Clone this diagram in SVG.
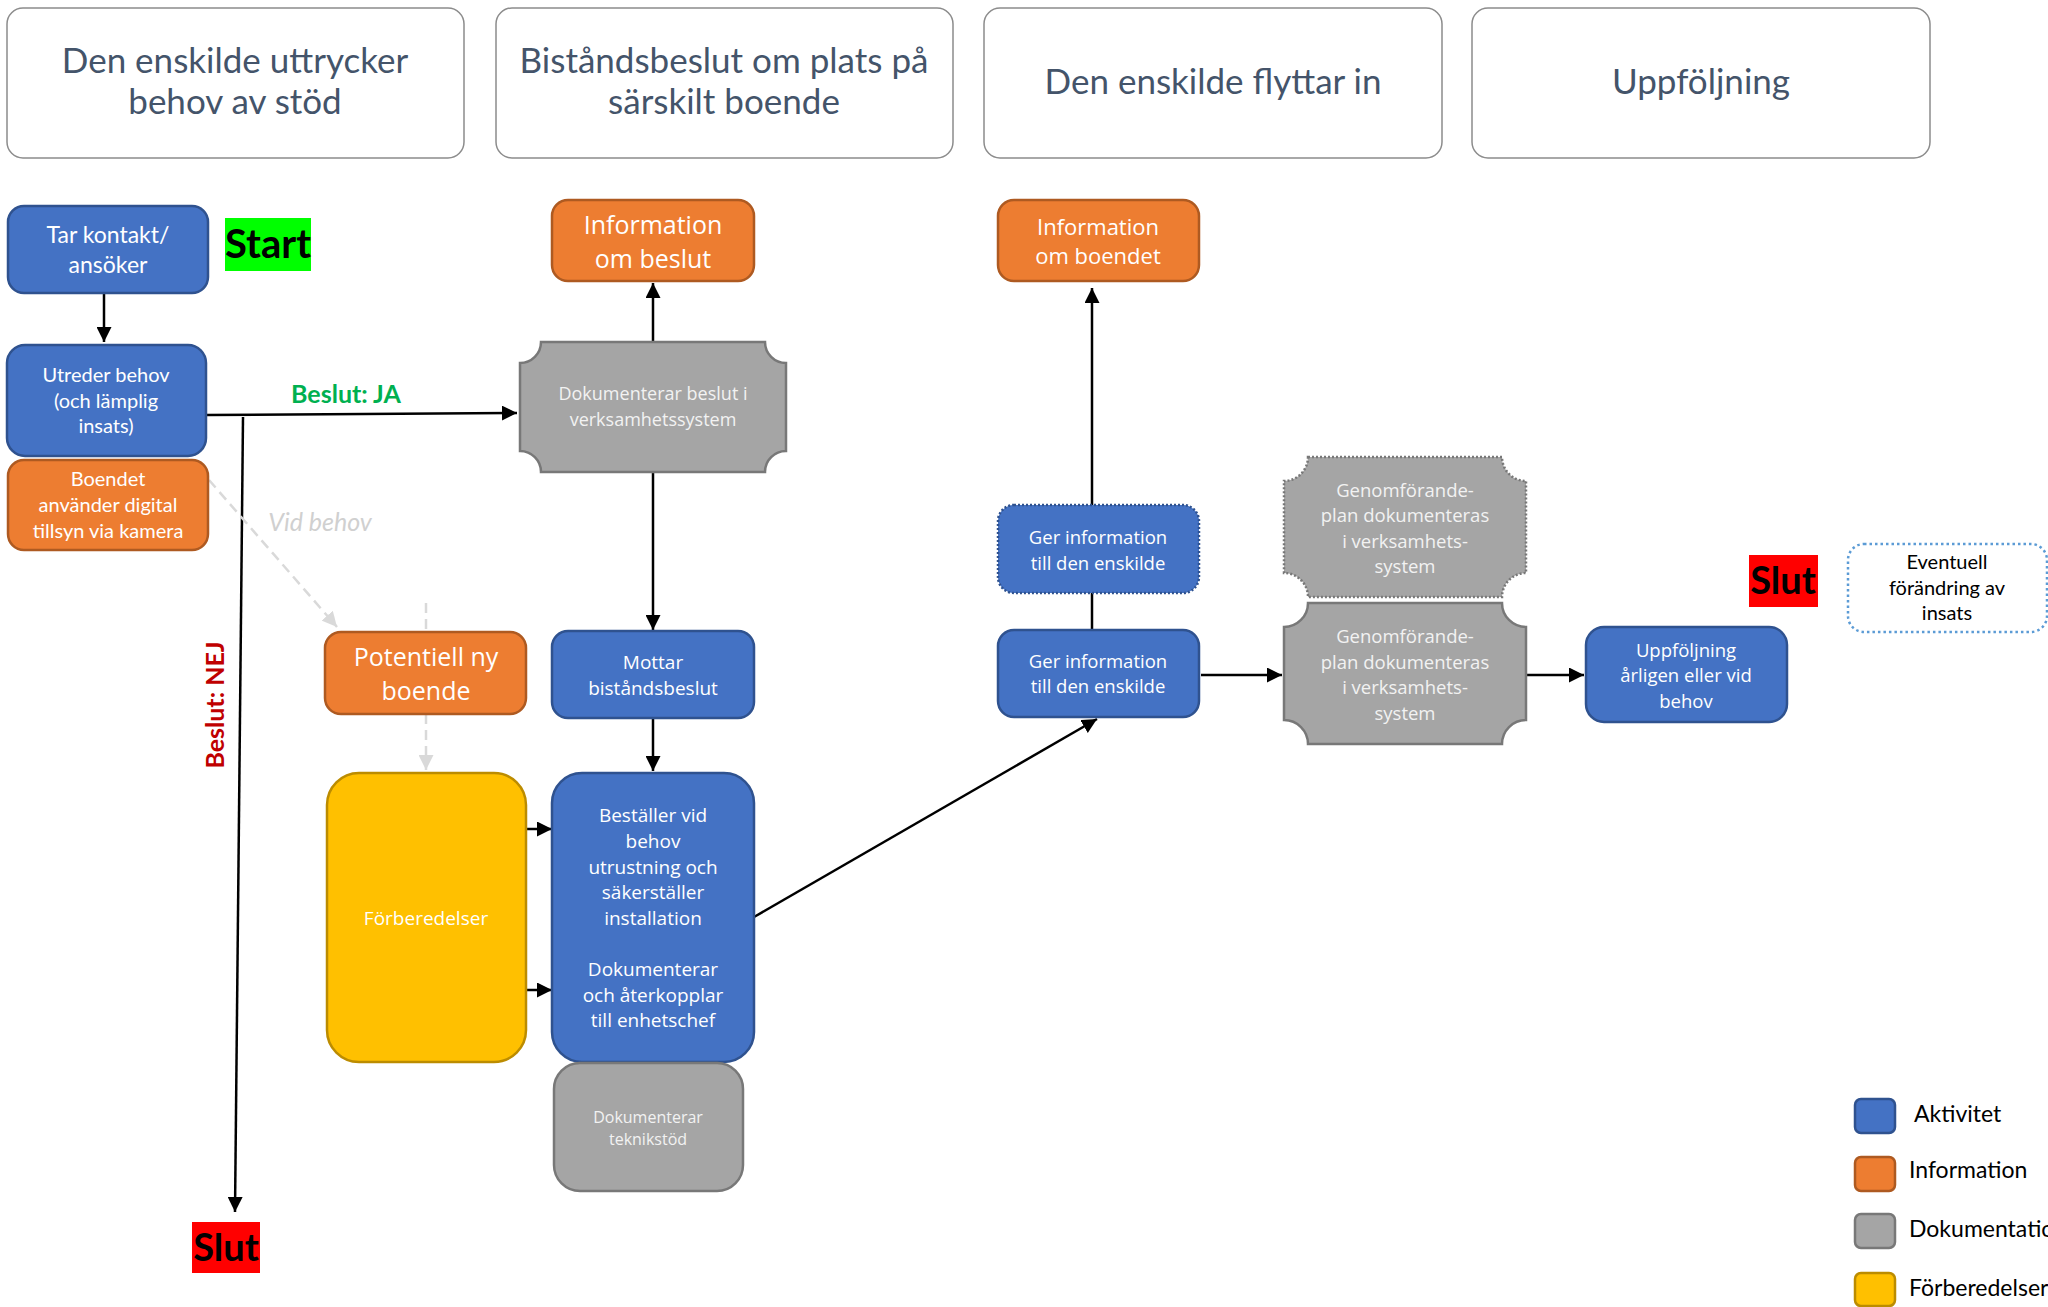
<svg xmlns="http://www.w3.org/2000/svg" width="2048" height="1307" viewBox="0 0 2048 1307">
<defs>
<style>
.hdr{fill:#fff;stroke:#8c8c8c;stroke-width:1.5}
.ht{font-family:Lato,"Liberation Sans",sans-serif;font-size:35px;fill:#44546a;text-anchor:middle}
.blue{fill:#4472c4;stroke:#2f528f;stroke-width:2.5}
.blued{fill:#4472c4;stroke:#2f528f;stroke-width:2.5;stroke-dasharray:2 2}
.orange{fill:#ed7d31;stroke:#ae5a21;stroke-width:2.5}
.gray{fill:#a5a5a5;stroke:#787878;stroke-width:2.5}
.grayd{fill:#a5a5a5;stroke:#787878;stroke-width:2.5;stroke-dasharray:2 2}
.yellow{fill:#ffc000;stroke:#bc8c00;stroke-width:2.5}
.tc{font-family:Lato,"Liberation Sans",sans-serif;fill:#fff;text-anchor:middle}
.to{font-family:"Open Sans","Liberation Sans",sans-serif;fill:#fff;text-anchor:middle}
.tg{font-family:"Open Sans","Liberation Sans",sans-serif;fill:#f2f2f2;text-anchor:middle}
.big{font-family:Lato,"Liberation Sans",sans-serif;font-weight:bold;fill:#000;text-anchor:middle}
.con{fill:none;stroke:#000;stroke-width:2.5}
.dash{fill:none;stroke:#d9d9d9;stroke-width:2.5;stroke-dasharray:10 6}
.lg{font-family:Lato,"Liberation Sans",sans-serif;font-size:23px;fill:#000}
</style>
<marker id="arr" viewBox="0 0 10 10" refX="10" refY="5" markerWidth="15" markerHeight="15" markerUnits="userSpaceOnUse" orient="auto">
<path d="M0,0 L10,5 L0,10 z" fill="#000"/>
</marker>
<marker id="arrg" viewBox="0 0 10 10" refX="10" refY="5" markerWidth="15" markerHeight="15" markerUnits="userSpaceOnUse" orient="auto">
<path d="M0,0 L10,5 L0,10 z" fill="#d9d9d9"/>
</marker>
</defs>
<rect width="2048" height="1307" fill="#fff"/>

<g id="header1"><rect class="hdr" x="7" y="8" width="457" height="150" rx="16"/>
<text class="ht" x="235" y="73">Den enskilde uttrycker</text><text class="ht" x="235" y="114">behov av stöd</text></g>
<g id="header2"><rect class="hdr" x="496" y="8" width="457" height="150" rx="16"/>
<text class="ht" x="724" y="73">Biståndsbeslut om plats på</text><text class="ht" x="724" y="114">särskilt boende</text></g>
<g id="header3"><rect class="hdr" x="984" y="8" width="458" height="150" rx="16"/>
<text class="ht" x="1213" y="94">Den enskilde flyttar in</text></g>
<g id="header4"><rect class="hdr" x="1472" y="8" width="458" height="150" rx="16"/>
<text class="ht" x="1701" y="94">Uppföljning</text></g>

<g id="connectors">
<line class="con" x1="104" y1="293" x2="104" y2="342" marker-end="url(#arr)"/>
<line class="con" x1="206" y1="415" x2="517" y2="413" marker-end="url(#arr)"/>
<line class="con" x1="243" y1="417" x2="235" y2="1212" marker-end="url(#arr)"/>
<line class="dash" x1="209" y1="480" x2="337" y2="627" marker-end="url(#arrg)"/>
<line class="dash" x1="426" y1="603" x2="426" y2="632"/>
<line class="dash" x1="426" y1="714" x2="426" y2="770" marker-end="url(#arrg)"/>
<line class="con" x1="653" y1="342" x2="653" y2="283" marker-end="url(#arr)"/>
<line class="con" x1="653" y1="472" x2="653" y2="630" marker-end="url(#arr)"/>
<line class="con" x1="653" y1="718" x2="653" y2="771" marker-end="url(#arr)"/>
<line class="con" x1="526" y1="829" x2="552" y2="829" marker-end="url(#arr)"/>
<line class="con" x1="526" y1="990" x2="552" y2="990" marker-end="url(#arr)"/>
<line class="con" x1="754" y1="917" x2="1097" y2="719" marker-end="url(#arr)"/>
<line class="con" x1="1092" y1="505" x2="1092" y2="288" marker-end="url(#arr)"/>
<line class="con" x1="1092" y1="593" x2="1092" y2="630"/>
<line class="con" x1="1201" y1="675" x2="1282" y2="675" marker-end="url(#arr)"/>
<line class="con" x1="1526" y1="675" x2="1584" y2="675" marker-end="url(#arr)"/>
<text x="346" y="403" font-family="Lato,'Liberation Sans',sans-serif" font-weight="bold" font-size="25" fill="#00b050" text-anchor="middle">Beslut: JA</text>
<text x="215" y="714" transform="rotate(-90 215 705)" font-family="Lato,'Liberation Sans',sans-serif" font-weight="bold" font-size="25" fill="#c00000" text-anchor="middle">Beslut: NEJ</text>
<text x="320" y="531" font-family="Lato,'Liberation Sans',sans-serif" font-style="italic" font-size="25" fill="#d0d0d0" text-anchor="middle">Vid behov</text>
</g>

<g id="tar-kontakt"><rect class="blue" x="8" y="206" width="200" height="87" rx="16"/>
<text class="tc" font-size="23" x="108" y="243">Tar kontakt/</text><text class="tc" font-size="23" x="108" y="273">ansöker</text></g>
<g id="start"><rect x="225" y="218" width="86" height="53" fill="#00ff00"/>
<text class="big" font-size="40" x="268" y="258">Start</text></g>
<g id="utreder"><rect class="blue" x="7" y="345" width="199" height="111" rx="18"/>
<text class="tc" font-size="20" x="106" y="382">Utreder behov</text><text class="tc" font-size="20" x="106" y="408">(och lämplig</text><text class="tc" font-size="20" x="106" y="433">insats)</text></g>
<g id="boendet"><rect class="orange" x="8" y="460" width="200" height="90" rx="16"/>
<text class="tc" font-size="20" x="108" y="486">Boendet</text><text class="tc" font-size="20" x="108" y="512">använder digital</text><text class="tc" font-size="20" x="108" y="538">tillsyn via kamera</text></g>
<g id="slut1"><rect x="192" y="1222" width="68" height="51" fill="#ff0000"/>
<text class="big" font-size="38" x="226" y="1261">Slut</text></g>
<g id="potentiell"><rect class="orange" x="325" y="632" width="201" height="82" rx="16"/>
<text class="to" font-size="25" x="426" y="666">Potentiell ny</text><text class="to" font-size="25" x="426" y="700">boende</text></g>
<g id="forberedelser"><rect class="yellow" x="327" y="773" width="199" height="289" rx="32"/>
<text class="to" font-size="19" x="426" y="925">Förberedelser</text></g>
<g id="info-beslut"><rect class="orange" x="552" y="200" width="202" height="81" rx="16"/>
<text class="to" font-size="25" x="653" y="234">Information</text><text class="to" font-size="25" x="653" y="268">om beslut</text></g>
<g id="dok-beslut"><path class="gray" d="M541,342 H765 A21 21 0 0 0 786,363 V451 A21 21 0 0 0 765,472 H541 A21 21 0 0 0 520,451 V363 A21 21 0 0 0 541,342 Z"/>
<text class="tg" font-size="18" x="653" y="400">Dokumenterar beslut i</text><text class="tg" font-size="18" x="653" y="426">verksamhetssystem</text></g>
<g id="mottar"><rect class="blue" x="552" y="631" width="202" height="87" rx="16"/>
<text class="to" font-size="19" x="653" y="669">Mottar</text><text class="to" font-size="19" x="653" y="695">biståndsbeslut</text></g>
<g id="bestaller"><rect class="blue" x="552" y="773" width="202" height="289" rx="30"/>
<text class="to" font-size="19" x="653" y="822">Beställer vid</text>
<text class="to" font-size="19" x="653" y="848">behov</text>
<text class="to" font-size="19" x="653" y="874">utrustning och</text>
<text class="to" font-size="19" x="653" y="899">säkerställer</text>
<text class="to" font-size="19" x="653" y="925">installation</text>
<text class="to" font-size="19" x="653" y="976">Dokumenterar</text>
<text class="to" font-size="19" x="653" y="1002">och återkopplar</text>
<text class="to" font-size="19" x="653" y="1027">till enhetschef</text></g>
<g id="teknikstod"><rect class="gray" x="554" y="1063" width="189" height="128" rx="26"/>
<text class="tg" font-size="16" x="648" y="1123">Dokumenterar</text><text class="tg" font-size="16" x="648" y="1145">teknikstöd</text></g>
<g id="info-boendet"><rect class="orange" x="998" y="200" width="201" height="81" rx="16"/>
<text class="to" font-size="22" x="1098" y="235">Information</text><text class="to" font-size="22" x="1098" y="264">om boendet</text></g>
<g id="ger-info-1"><rect class="blued" x="998" y="505" width="201" height="88" rx="16"/>
<text class="to" font-size="18.5" x="1098" y="544">Ger information</text><text class="to" font-size="18.5" x="1098" y="570">till den enskilde</text></g>
<g id="ger-info-2"><rect class="blue" x="998" y="630" width="201" height="87" rx="16"/>
<text class="to" font-size="18.5" x="1098" y="668">Ger information</text><text class="to" font-size="18.5" x="1098" y="693">till den enskilde</text></g>
<g id="plan-1"><path class="grayd" d="M1308,457 H1502 A24 24 0 0 0 1526,481 V573 A24 24 0 0 0 1502,597 H1308 A24 24 0 0 0 1284,573 V481 A24 24 0 0 0 1308,457 Z"/>
<text class="tg" font-size="18.5" x="1405" y="497">Genomförande-</text><text class="tg" font-size="18.5" x="1405" y="522">plan dokumenteras</text><text class="tg" font-size="18.5" x="1405" y="548">i verksamhets-</text><text class="tg" font-size="18.5" x="1405" y="573">system</text></g>
<g id="plan-2"><path class="gray" d="M1308,603 H1502 A24 24 0 0 0 1526,627 V720 A24 24 0 0 0 1502,744 H1308 A24 24 0 0 0 1284,720 V627 A24 24 0 0 0 1308,603 Z"/>
<text class="tg" font-size="18.5" x="1405" y="643">Genomförande-</text><text class="tg" font-size="18.5" x="1405" y="669">plan dokumenteras</text><text class="tg" font-size="18.5" x="1405" y="694">i verksamhets-</text><text class="tg" font-size="18.5" x="1405" y="720">system</text></g>
<g id="uppfoljning"><rect class="blue" x="1586" y="627" width="201" height="95" rx="18"/>
<text class="to" font-size="18.5" x="1686" y="657">Uppföljning</text><text class="to" font-size="18.5" x="1686" y="682">årligen eller vid</text><text class="to" font-size="18.5" x="1686" y="708">behov</text></g>
<g id="slut2"><rect x="1749" y="555" width="69" height="52" fill="#ff0000"/>
<text class="big" font-size="38" x="1783" y="594">Slut</text></g>
<g id="eventuell"><rect x="1848" y="544" width="199" height="88" rx="16" fill="#fff" stroke="#5b9bd5" stroke-width="2.5" stroke-dasharray="2.5 3"/>
<text font-family="Lato,'Liberation Sans',sans-serif" font-size="20" fill="#000" text-anchor="middle" x="1947" y="569">Eventuell</text><text font-family="Lato,'Liberation Sans',sans-serif" font-size="20" fill="#000" text-anchor="middle" x="1947" y="595">förändring av</text><text font-family="Lato,'Liberation Sans',sans-serif" font-size="20" fill="#000" text-anchor="middle" x="1947" y="620">insats</text></g>

<g id="legend">
<rect class="blue" x="1855" y="1099" width="40" height="34" rx="6"/><text class="lg" x="1914" y="1122">Aktivitet</text>
<rect class="orange" x="1855" y="1157" width="40" height="34" rx="6"/><text class="lg" x="1909" y="1178">Information</text>
<rect class="gray" x="1855" y="1214" width="40" height="34" rx="6"/><text class="lg" x="1909" y="1237">Dokumentation</text>
<rect class="yellow" x="1855" y="1273" width="40" height="33" rx="6"/><text class="lg" x="1909" y="1296">Förberedelser</text>
</g>
</svg>
